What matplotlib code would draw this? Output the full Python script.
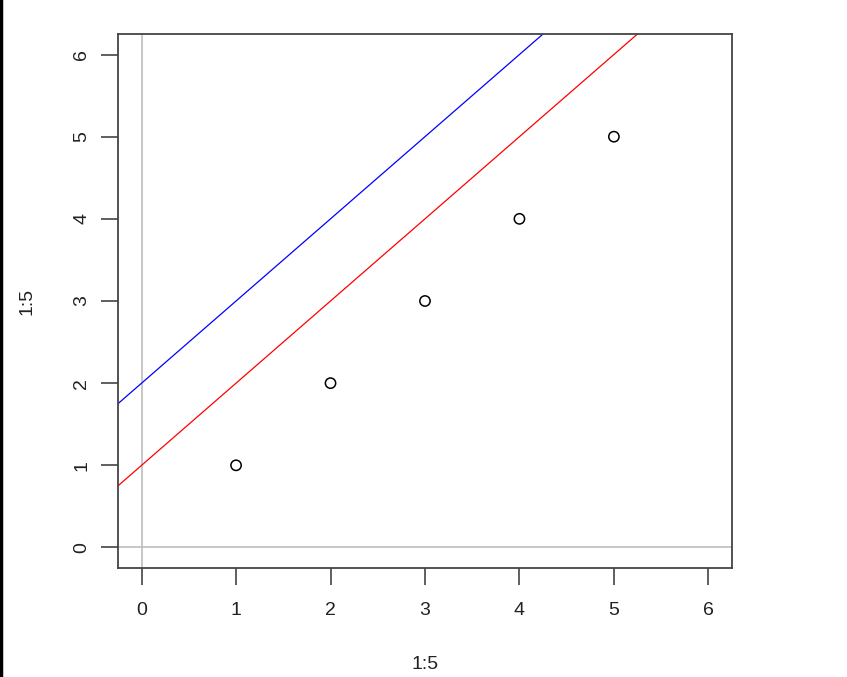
import numpy as np
import matplotlib.pyplot as plt
from matplotlib.lines import Line2D

plt.rcParams['font.family'] = ['Liberation Sans', 'DejaVu Sans']

# data: plot(1:5, 1:5) with two ablines
x = [1, 2, 3, 4, 5]
y = [1, 2, 3, 4, 5]
blue_int, blue_slope = 2, 1
red_int, red_slope = 1, 1
ticks = [0, 1, 2, 3, 4, 5, 6]

fig = plt.figure(figsize=(8.47, 6.77), dpi=100)
ax = fig.add_axes([0.1393, 0.1610, 0.7249, 0.7888])

ax.set_xlim(-0.25, 6.25)
ax.set_ylim(-0.25, 6.25)

# reference lines h=0, v=0
ax.axhline(0, color='#bebebe', lw=1.2, zorder=1)
ax.axvline(0, color='#bebebe', lw=1.2, zorder=1)

xs = np.array([-1.0, 8.0])
ax.plot(xs, blue_int + blue_slope * xs, color='blue', lw=0.9, zorder=2)
ax.plot(xs, red_int + red_slope * xs, color='red', lw=0.9, zorder=2)

ax.scatter(x, y, s=55, facecolors='none', edgecolors='black', linewidths=1.1, zorder=3)

ax.set_xticks(ticks)
ax.set_yticks(ticks)
ax.set_xticklabels([str(t) for t in ticks])
ax.set_yticklabels([str(t) for t in ticks], rotation=90, va='center')
ax.tick_params(axis='both', length=12, width=1.2, color='#444444',
               labelsize=14, labelcolor='#222222')
ax.tick_params(axis='x', pad=12.5)
ax.tick_params(axis='y', pad=8)
for s in ax.spines.values():
    s.set_color('#444444')
    s.set_linewidth(1.3)

ax.set_xlabel('1:5', fontsize=14, color='#222222', labelpad=26.5)
ax.set_ylabel('1:5', fontsize=14, color='#222222', labelpad=27.5)

# dark border on the left of the screenshot
fig.add_artist(Line2D([0.001, 0.001], [0, 1], color='black', lw=2.5, transform=fig.transFigure))

fig.savefig('out.png', dpi=100)
